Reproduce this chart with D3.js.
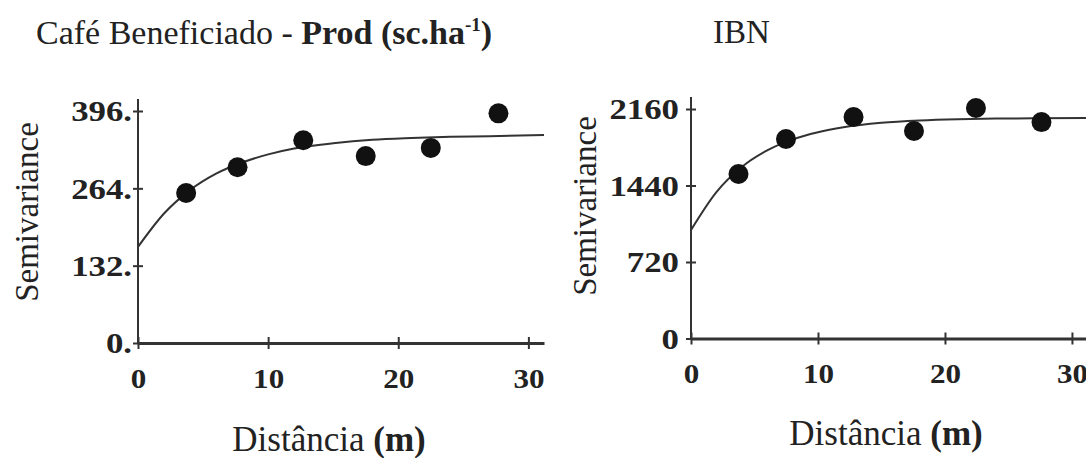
<!DOCTYPE html>
<html>
<head>
<meta charset="utf-8">
<script src="https://cdn.jsdelivr.net/npm/d3@7"></script>
<style>
  body { margin: 0; background: #fff; }
  svg text { font-family: "Liberation Serif", "Times New Roman", Times, "DejaVu Serif", serif; fill: #222; }
  .axis path, .axis line { stroke: #333; }
  .axis text { font-weight: bold; fill: #222; }
</style>
</head>
<body>
<div id="chart-area"></div>
<script>
// distances of the lag classes (m)
var lagsProd = [3.7, 7.65, 12.7, 17.5, 22.5, 27.7];
var semivarProd = [256, 300, 346, 319, 333, 392];
var lagsIbn = [3.74, 7.48, 12.8, 17.56, 22.44, 27.6];
var semivarIbn = [1548, 1878, 2085, 1953, 2169, 2037];

// fitted model
var curveDist = [0, 2, 4, 6, 8, 10, 12, 15, 18, 21, 24, 27, 31.2];
var curveProd = [164, 221, 261, 289, 308, 322, 332, 341, 347, 350, 352, 353, 355];
var curveIbn = [1021, 1378, 1614, 1770, 1874, 1942, 1988, 2030, 2052, 2064, 2070, 2073, 2075];

var xTicks = [0, 10, 20, 30];
var yTicksProd = [0, 132, 264, 396];
var yLabelsProd = ['0.', '132.', '264.', '396.'];
var yTicksIbn = [0, 720, 1440, 2160];
var yLabelsIbn = ['0', '720', '1440', '2160'];

var width = 1086, height = 458;

var svg = d3.select('#chart-area')
	.append('svg')
	.attr('width', width)
	.attr('height', height);

var panels = [
	{
		lags: lagsProd, vals: semivarProd, curve: curveProd,
		yTicks: yTicksProd, yLabels: yLabelsProd,
		x: d3.scaleLinear().domain([0, 31.2]).range([138, 544]),
		y: d3.scaleLinear().domain([0, 396]).range([343, 111]),
		yTop: 99, yLabelY: 212, yLabelX: 38, xLabelX: 329, xLabelY: 451, xTickY: 388, yTickGap: 6
	},
	{
		lags: lagsIbn, vals: semivarIbn, curve: curveIbn,
		yTicks: yTicksIbn, yLabels: yLabelsIbn,
		x: d3.scaleLinear().domain([0, 31.5]).range([691, 1091]),
		y: d3.scaleLinear().domain([0, 2160]).range([338.5, 109]),
		yTop: 97, yLabelY: 206, yLabelX: 596, xLabelX: 886, xLabelY: 445, xTickY: 383, yTickGap: 12
	}
];

panels.forEach(p => {
	var g = svg.append('g');
	var y0 = p.y(0);
	var x0 = p.x(0);

	// x axis
	var xAxis = g.append('g')
		.attr('class', 'axis')
		.attr('transform', `translate(0, ${y0})`)
		.call(d3.axisBottom(p.x).tickValues(xTicks).tickSize(0).tickSizeOuter(0));
	xAxis.select('.domain').attr('stroke-width', 3).attr('stroke', '#444');
	xAxis.selectAll('.tick').append('line')
		.attr('y1', -6).attr('y2', 6)
		.attr('stroke', '#333').attr('stroke-width', 2);
	xAxis.selectAll('.tick text')
		.attr('y', 0)
		.attr('dy', 0)
		.attr('font-size', '27px')
		.attr('transform', `translate(0, ${p.xTickY - y0}) scale(1.15, 1)`);

	// y axis
	var yAxis = g.append('g')
		.attr('class', 'axis')
		.attr('transform', `translate(${x0}, 0)`)
		.call(d3.axisLeft(p.y).tickValues(p.yTicks).tickSize(0).tickSizeOuter(0)
			.tickFormat((d, i) => p.yLabels[i]));
	yAxis.select('.domain').remove();
	yAxis.append('line')
		.attr('y1', y0).attr('y2', p.yTop)
		.attr('stroke', '#333').attr('stroke-width', 2);
	yAxis.selectAll('.tick').append('line')
		.attr('x1', -5).attr('x2', 5)
		.attr('stroke', '#333').attr('stroke-width', 2);
	yAxis.selectAll('.tick text')
		.attr('x', 0)
		.attr('dy', '0.34em')
		.attr('font-size', '29px')
		.attr('transform', `translate(${-p.yTickGap}, 0) scale(1.2, 1)`);

	// model curve
	var line = d3.line()
		.x((d, i) => p.x(curveDist[i]))
		.y(d => p.y(d))
		.curve(d3.curveMonotoneX);
	g.append('path')
		.datum(p.curve)
		.attr('fill', 'none')
		.attr('stroke', '#333')
		.attr('stroke-width', 2)
		.attr('d', line);

	// experimental semivariances
	g.selectAll('circle')
		.data(p.vals)
		.enter().append('circle')
		.attr('cx', (d, i) => p.x(p.lags[i]))
		.attr('cy', d => p.y(d))
		.attr('r', 10)
		.attr('fill', '#111');

	g.append('text')
		.attr('transform', `translate(${p.yLabelX}, ${p.yLabelY}) rotate(-90)`)
		.attr('text-anchor', 'middle')
		.attr('font-size', '33px')
		.text('Semivariance');

	var xl = g.append('text')
		.attr('x', p.xLabelX)
		.attr('y', p.xLabelY)
		.attr('text-anchor', 'middle')
		.attr('font-size', '35px');
	xl.append('tspan').text('Distância ');
	xl.append('tspan').attr('font-weight', 'bold').text('(m)');
});

// titles
var t1 = svg.append('text')
	.attr('x', 36)
	.attr('y', 44)
	.attr('font-size', '34px');
t1.append('tspan').text('Café Beneficiado - ');
t1.append('tspan').attr('font-weight', 'bold').text('Prod (sc.ha');
t1.append('tspan').attr('font-size', '19px').attr('dy', -13).attr('font-weight', 'bold').text('-1');
t1.append('tspan').attr('dy', 13).attr('font-weight', 'bold').text(')');

svg.append('text')
	.attr('x', 713)
	.attr('y', 43)
	.attr('font-size', '33px')
	.text('IBN');
</script>
</body>
</html>
